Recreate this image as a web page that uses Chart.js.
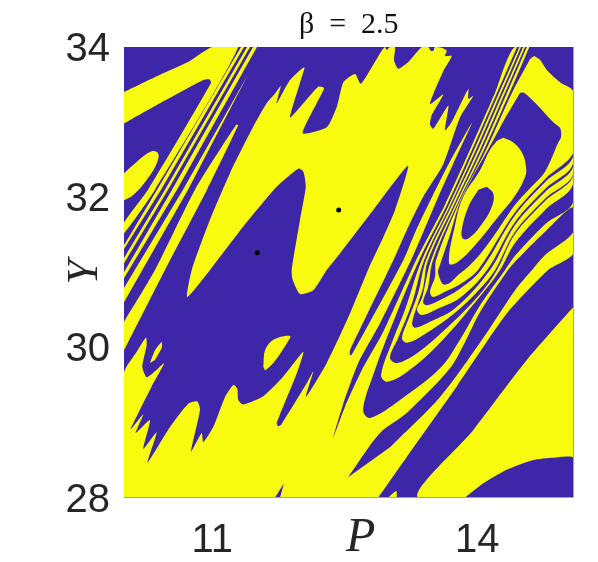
<!DOCTYPE html>
<html>
<head>
<meta charset="utf-8">
<style>
  html, body { margin: 0; padding: 0; background: #fff; }
  #wrap { width: 598px; height: 562px; }
</style>
<script src="https://cdn.jsdelivr.net/npm/chart.js@4/dist/chart.umd.min.js"></script>
</head>
<body>
<div id="wrap"><canvas id="basin" width="598" height="562"></canvas></div>
<script>
const BLUE = '#3e26a8';
const YELLOW = '#f9fb0e';

const xMin = 10, xMax = 15.09, yMin = 28, yMax = 34;
const xTicks = [11, 14];
const yTicks = [28, 30, 32, 34];

// basin outlines, as [P, Y]
const field = [[xMin, yMin], [xMin, yMax], [xMax, yMax], [xMax, yMin]];

const topBand = [[10, 33.40], [10.408, 33.63], [10.725, 33.80], [10.997, 34], [11.294, 34], [10.351, 32.10], [10, 31.52],
  [10, 31.66], [10.272, 32.10], [10.985, 33.52], [10.966, 33.57], [10.898, 33.56], [10.408, 33.25], [10, 32.98]];
const stripeB = [[10, 31.36], [10.374, 32.10], [11.325, 34], [11.359, 34], [10.419, 32.10], [10, 31.31]];
const stripeC = [[10, 31.19], [10.464, 32.10], [11.393, 34], [11.427, 34], [10.498, 32.10], [10, 31.12]];
const stripeD = [[10, 31.00], [10.544, 32.10], [11.461, 34], [11.506, 34], [10.600, 32.10], [10, 30.92]];
const stripeE = [[10, 30.79], [10.668, 32.10], [11.408, 33.64], [10.725, 32.10], [10, 30.60]];
const stripeF = [[10, 30.34], [10.351, 31.03], [10.804, 32.10], [11.268, 32.96], [11.294, 32.96], [10.940, 32.10], [10.464, 31.03], [10, 29.96]];
const leftOval = [[10, 32.32], [10.144, 32.47], [10.314, 32.61], [10.388, 32.58], [10.370, 32.45], [10.257, 32.23], [10.105, 32.03], [10, 31.96]];

const mainRegion = [[10, 28], [10, 29.66], [10.144, 29.94], [10.249, 30.13], [10.257, 30.03], [10.207, 29.74], [10.257, 29.60],
  [10.351, 29.68], [10.456, 29.79], [10.314, 29.48], [10.181, 29.17], [10.076, 28.91], [10.219, 29.11], [10.133, 28.86],
  [10.294, 29.03], [10.219, 28.65], [10.370, 28.87], [10.268, 28.47], [10.521, 28.94], [10.728, 29.25], [10.830, 29.28],
  [10.861, 29.17], [10.759, 28.61], [10.880, 28.86], [10.898, 28.74], [11.011, 28.94], [11.144, 29.34], [11.238, 29.50],
  [11.283, 29.45], [11.294, 29.30], [11.351, 29.24], [11.578, 29.35], [11.804, 29.61], [12.031, 29.94], [11.956, 29.65],
  [11.729, 28.99], [11.747, 28.95], [11.786, 28.98], [12.069, 29.52], [12.144, 29.68], [12.061, 29.34], [12.296, 29.79],
  [12.559, 30.45], [12.763, 31.03], [12.937, 31.47], [13.069, 31.83], [13.216, 32.42], [12.823, 31.83], [12.446, 31.25],
  [12.296, 31.03], [12.144, 30.76], [11.993, 30.71], [11.910, 30.90], [11.899, 31.03], [11.993, 31.70], [12.058, 32.14],
  [12.031, 32.34], [11.974, 32.38], [11.729, 32.14], [11.351, 31.61], [10.974, 31.03], [10.717, 30.67], [10.767, 31.03],
  [10.974, 31.70], [11.200, 32.32], [11.464, 32.94], [11.616, 33.25], [11.710, 33.38], [11.775, 33.48], [11.729, 33.25],
  [11.880, 33.56], [12.042, 33.73], [11.993, 33.52], [11.880, 33.06], [12.031, 33.25], [12.200, 33.47], [12.265, 33.45],
  [12.182, 33.25], [12.024, 32.85], [12.296, 32.93], [12.409, 33.20], [12.484, 33.53], [12.616, 33.64], [12.681, 33.51],
  [12.805, 33.73], [12.918, 33.95], [12.956, 34], [12.975, 33.96], [13.012, 34], [13.069, 34], [13.058, 33.82], [13.106, 33.71],
  [13.220, 33.80], [13.371, 34], [13.446, 34], [13.473, 33.95], [13.503, 33.95], [13.522, 34], [13.598, 33.99], [13.655, 33.95],
  [13.635, 33.88], [13.711, 33.88], [13.616, 33.68], [13.465, 33.24], [13.616, 33.37], [13.485, 33.09], [13.465, 32.97],
  [13.503, 32.91], [13.673, 33.22], [13.635, 32.89], [13.711, 33.00], [13.899, 33.44], [13.899, 33.31], [13.956, 33.35],
  [13.805, 33.06], [13.616, 32.44], [13.390, 32.01], [13.202, 31.56], [13.050, 31.16], [12.559, 29.96], [12.559, 29.90],
  [12.579, 29.90], [13.163, 31.16], [13.307, 31.56], [13.511, 32.06], [13.675, 32.44], [13.941, 32.99], [13.726, 32.44],
  [13.579, 32.06], [13.398, 31.56], [13.250, 31.16], [12.899, 30.32], [12.653, 29.79], [12.484, 29.25], [12.367, 28.79],
  [12.503, 29.21], [12.695, 29.70], [12.933, 30.20], [13.307, 31.16], [13.635, 31.90], [13.918, 32.63], [14.202, 33.39],
  [14.428, 34], [xMax, 34], [xMax, 31.26], [14.802, 31.03], [14.334, 30.45], [13.768, 29.48], [13.202, 28.54], [12.880, 28]];

const lowerRight = [[xMax, 30.54], [14.561, 29.83], [13.956, 28.90], [13.333, 28], [xMax, 28]];
const cornerCap = [[13.862, 28], [14.069, 28.19], [14.334, 28.37], [14.635, 28.50], [14.862, 28.53], [xMax, 28.53], [xMax, 28]];
const bandNotch = [[12.993, 28], [13.069, 28.08], [13.088, 28.08], [13.088, 28]];
const bottomSlot = [[11.710, 28], [11.812, 28.19], [11.767, 28]];
const islandBig = [[11.578, 29.74], [11.597, 29.96], [11.691, 30.10], [11.880, 30.15], [11.843, 30.05], [11.691, 29.79], [11.597, 29.69]];
const islandSmall = [[10.294, 29.79], [10.351, 29.96], [10.427, 30.07], [10.427, 29.99], [10.351, 29.83]];

const spear = [[12.537, 28.27], [12.899, 28.86], [13.205, 29.13], [13.692, 29.72], [13.862, 30.07], [14.032, 30.47], [14.349, 31.03],
  [14.428, 31.14], [14.768, 31.54], [xMax, 31.87], [xMax, 31.54], [14.768, 31.23], [14.621, 31.03], [14.428, 30.76],
  [14.066, 30.12], [13.579, 29.34], [13.012, 28.67]];

// nested chevrons, outermost first: left arm down, tip, right arm out to the edge
const chevron2 = [[14.451, 34], [14.224, 33.39], [13.941, 32.63], [13.658, 31.90], [13.341, 31.16], [13.012, 30.23], [12.843, 29.70],
  [12.707, 29.17], [12.786, 29.06], [13.126, 29.30], [13.579, 29.72], [13.805, 30.10], [14.032, 30.56], [14.315, 31.03],
  [14.428, 31.22], [14.768, 31.64], [xMax, 31.96], [xMax, 34]];
const chevron3 = [[14.477, 34], [14.247, 33.39], [13.964, 32.63], [13.681, 31.90], [13.371, 31.16], [13.182, 30.50], [13.046, 30.10],
  [12.911, 29.63], [12.978, 29.54], [13.205, 29.67], [13.579, 30.06], [14.032, 30.68], [14.258, 31.03], [14.428, 31.39],
  [14.768, 31.83], [xMax, 32.20], [xMax, 34]];
const chevron4 = [[14.496, 34], [14.270, 33.39], [13.986, 32.63], [13.698, 31.90], [13.398, 31.16], [13.262, 30.59], [13.103, 30.12],
  [13.012, 29.86], [13.092, 29.79], [13.318, 29.92], [13.658, 30.26], [14.032, 30.71], [14.224, 31.03], [14.428, 31.51],
  [14.768, 31.95], [xMax, 32.31], [xMax, 34]];
const chevron5 = [[14.519, 34], [14.292, 33.39], [14.009, 32.63], [13.715, 31.90], [13.420, 31.16], [13.330, 30.72], [13.216, 30.36],
  [13.148, 30.12], [13.205, 30.06], [13.386, 30.16], [13.749, 30.46], [14.032, 30.78], [14.202, 31.03], [14.428, 31.54],
  [14.768, 31.98], [xMax, 32.33], [xMax, 34]];
const chevron6 = [[14.541, 34], [14.315, 33.39], [14.032, 32.63], [13.737, 31.90], [13.443, 31.16], [13.386, 30.79], [13.330, 30.59],
  [13.262, 30.32], [13.296, 30.26], [13.465, 30.34], [13.749, 30.52], [14.145, 31.03], [14.428, 31.63], [14.768, 32.07],
  [xMax, 32.43], [xMax, 34]];
const chevron7 = [[14.561, 34], [14.337, 33.39], [14.054, 32.63], [13.754, 31.90], [13.477, 31.16], [13.375, 30.66], [13.318, 30.50],
  [13.375, 30.43], [13.545, 30.51], [13.805, 30.66], [14.111, 31.03], [14.428, 31.67], [14.768, 32.11], [xMax, 32.47], [xMax, 34]];
const chevron8 = [[14.590, 34], [14.366, 33.39], [14.077, 32.63], [13.771, 31.90], [13.499, 31.16], [13.443, 30.80], [13.386, 30.60],
  [13.431, 30.56], [13.579, 30.63], [13.805, 30.78], [14.043, 31.03], [14.428, 31.76], [14.768, 32.20], [xMax, 32.56], [xMax, 34]];
const frame = [[14.598, 33.84], [14.394, 33.39], [14.100, 32.63], [13.783, 31.90], [13.533, 31.16], [13.522, 30.94], [13.465, 30.74],
  [13.499, 30.67], [13.635, 30.74], [13.805, 30.84], [14.009, 31.03], [14.428, 31.80], [14.768, 32.24], [xMax, 32.60],
  [xMax, 33.40], [14.938, 33.53], [14.790, 33.69], [14.711, 33.83], [14.643, 33.88]];
const ring = [[14.485, 33.39], [14.530, 33.39], [14.677, 33.23], [14.858, 33.00], [14.938, 32.92], [14.949, 32.80], [14.915, 32.72],
  [14.768, 32.34], [14.598, 32.12], [14.428, 31.90], [14.202, 31.51], [14.032, 31.24], [13.895, 31.07], [13.771, 30.95],
  [13.692, 30.86], [13.613, 30.84], [13.556, 31.00], [13.579, 31.10], [13.692, 31.50], [13.794, 31.90], [13.930, 32.23],
  [14.122, 32.63], [14.315, 33.05]];
const blob = [[14.292, 32.79], [14.405, 32.73], [14.507, 32.59], [14.553, 32.40], [14.541, 32.27], [14.428, 32.02], [14.258, 31.77],
  [13.975, 31.36], [13.771, 31.13], [13.680, 31.12], [13.749, 31.63], [13.839, 32.00], [14.032, 32.36], [14.145, 32.63], [14.224, 32.75]];
const ellipse = [[14.108, 32.14], [14.182, 32.05], [14.164, 31.87], [14.032, 31.61], [13.899, 31.45], [13.836, 31.45], [13.824, 31.56],
  [13.899, 31.87], [14.012, 32.10]];

const attractors = [[11.510, 31.26], [12.431, 31.83]];

// bottom layer first: outline, colour, curve smoothing
const layers = [
  [field, BLUE, 0], [topBand, YELLOW, 0.2], [stripeB, YELLOW, 0], [stripeC, YELLOW, 0], [stripeD, YELLOW, 0], [stripeE, YELLOW, 0],
  [stripeF, YELLOW, 0.2], [leftOval, YELLOW, 0.4], [mainRegion, YELLOW, 0.2], [lowerRight, YELLOW, 0.25], [cornerCap, BLUE, 0.2],
  [bandNotch, YELLOW, 0.2], [bottomSlot, BLUE, 0], [islandBig, YELLOW, 0.35], [islandSmall, YELLOW, 0.2], [spear, BLUE, 0.3],
  [chevron2, BLUE, 0.35], [chevron3, YELLOW, 0.35], [chevron4, BLUE, 0.35], [chevron5, YELLOW, 0.35], [chevron6, BLUE, 0.35],
  [chevron7, YELLOW, 0.35], [chevron8, BLUE, 0.35], [frame, YELLOW, 0.3], [ring, BLUE, 0.3], [blob, YELLOW, 0.4], [ellipse, BLUE, 0.4]
];

const toPoints = (pairs) => pairs.map(([x, y]) => ({ x, y }));

const datasets = layers.map(([pairs, color, tension], idx) => ({
  data: toPoints(pairs),
  showLine: true,
  fill: 'shape',
  backgroundColor: color,
  borderWidth: 0,
  borderColor: color,
  pointRadius: 0,
  tension,
  order: layers.length - idx + 1
}));

datasets.push({
  data: toPoints(attractors),
  showLine: false,
  pointRadius: 2.5,
  pointBackgroundColor: '#000',
  pointBorderWidth: 0,
  order: 0
});

// thin grey edge on the bottom and right of the axes box
const boxEdge = {
  id: 'boxEdge',
  afterDraw(chart) {
    const { ctx, chartArea: a } = chart;
    ctx.save();
    ctx.strokeStyle = '#a3a3a3';
    ctx.lineWidth = 1;
    ctx.beginPath();
    ctx.moveTo(a.left, a.bottom);
    ctx.lineTo(a.right, a.bottom);
    ctx.lineTo(a.right, a.top);
    ctx.stroke();
    ctx.restore();
  }
};

new Chart(document.getElementById('basin'), {
  type: 'scatter',
  data: { datasets },
  plugins: [boxEdge],
  options: {
    responsive: false,
    animation: false,
    layout: { padding: { right: 24.5 } },
    plugins: {
      legend: { display: false },
      tooltip: { enabled: false },
      title: {
        display: true,
        fullSize: false,
        text: 'β  =  2.5',
        color: '#111',
        font: { family: '"Liberation Serif"', size: 30, weight: 'normal' },
        padding: { top: 7, bottom: 4 }
      }
    },
    scales: {
      x: {
        min: xMin,
        max: xMax,
        grid: { display: false },
        border: { display: false },
        afterBuildTicks: (axis) => { axis.ticks = xTicks.map((value) => ({ value })); },
        afterFit: (axis) => { axis.height = 64.5; },
        ticks: {
          color: '#262626',
          font: { family: '"Liberation Sans"', size: 40 },
          padding: 11,
          maxRotation: 0,
          callback: (v) => String(v)
        },
        title: {
          display: true,
          text: '  P',
          color: '#262626',
          font: { family: '"Liberation Serif"', size: 48, style: 'italic', lineHeight: 1 },
          padding: { top: 0, bottom: 0 }
        }
      },
      y: {
        min: yMin,
        max: yMax,
        grid: { display: false },
        border: { display: false },
        afterBuildTicks: (axis) => { axis.ticks = yTicks.map((value) => ({ value })); },
        afterFit: (axis) => { axis.width = 124; },
        ticks: {
          color: '#262626',
          font: { family: '"Liberation Sans"', size: 40 },
          padding: 6,
          labelOffset: 3,
          callback: (v) => String(v)
        },
        title: {
          display: true,
          text: 'Y',
          color: '#262626',
          font: { family: '"Liberation Serif"', size: 44, style: 'italic', lineHeight: 1 },
          padding: { top: 63, bottom: 0 }
        }
      }
    }
  }
});
</script>
</body>
</html>
